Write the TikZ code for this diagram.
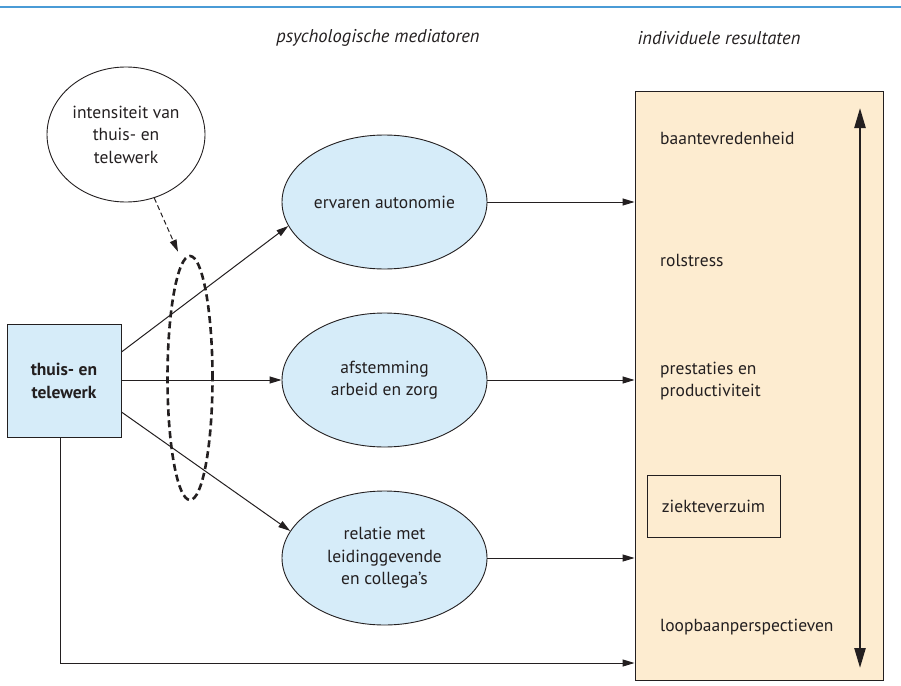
\documentclass[tikz,border=0pt]{standalone}
\usepackage{fontspec}
\setmainfont{PT Sans}
\usetikzlibrary{arrows.meta,positioning,shapes.geometric,calc}
\definecolor{paleblue}{RGB}{214,236,249}
\definecolor{sand}{RGB}{253,236,208}
\definecolor{rulebl}{RGB}{74,155,214}
\definecolor{ink}{RGB}{35,31,32}
\tikzset{
  >={Triangle[length=12pt,width=7pt]},
  txt/.style={font=\fontsize{17.5}{22.5}\selectfont,text=ink,align=center,inner sep=0pt},
  heading/.style={font=\fontsize{18.5}{20}\selectfont\itshape,text=ink,inner sep=0pt},
  mediator/.style={txt,ellipse,draw=ink,line width=0.9pt,fill=#1,
    minimum width=205pt,minimum height=134pt},
  mediator/.default=paleblue,
  outcome/.style={txt,anchor=west},
  flow/.style={->,draw=ink,line width=1pt},
  ring/.style={ellipse,draw=ink,line width=2.6pt,dash pattern=on 7pt off 4pt,
    minimum width=45pt,minimum height=244pt,inner sep=0pt},
}

\begin{document}
\begin{tikzpicture}[x=1pt,y=-1pt]
  \useasboundingbox (0,0) rectangle (901,685);
  \draw[rulebl,line width=2pt] (0,7.5) -- (901,7.5);
  % headings
  \node[heading] (hmed) at (378,38) {psychologische mediatoren};
  \node[heading] (hres) at (719,38) {individuele resultaten};
  % results panel
  \node[draw=ink,line width=0.9pt,fill=sand,minimum width=248pt,minimum height=589pt] (res) at (759,385.5) {};
  \node[outcome] (baan) at (660,138) {baantevredenheid};
  \node[outcome] (rol) at (660,260) {rolstress};
  \node[outcome,align=left] (prest) at (660,381) {prestaties en\\productiviteit};
  \node[txt,draw=ink,line width=0.8pt,minimum width=133pt,minimum height=62pt] (ziek) at (713.5,506) {ziekteverzuim};
  \node[outcome] (loop) at (660,627) {loopbaanperspectieven};
  \coordinate (scaletop) at (860,108);
  \coordinate (scalebot) at (860,668);
  \draw[draw=ink,line width=2.4pt,{Triangle[length=20pt,width=11pt]}-{Triangle[length=20pt,width=11pt]}] (scalebot) -- (scaletop);
  % moderator and cause
  \node[txt,ellipse,draw=ink,line width=0.9pt,minimum width=158pt,minimum height=135pt] (intens) at (126,134.5) {intensiteit van\\thuis- en\\telewerk};
  \node[txt,font=\fontsize{17.5}{23}\selectfont\bfseries,draw=ink,line width=0.9pt,fill=paleblue,minimum width=114pt,minimum height=113pt] (tele) at (64,380.5) {thuis- en\\telewerk};
  \node[ring] (mod) at (190,378) {};
  % mediators
  \node[mediator] (auto) at (384.5,202) {ervaren autonomie};
  \node[mediator] (afst) at (384.5,380) {afstemming\\arbeid en zorg};
  \node[mediator] (rel) at (384.5,558) {relatie met\\leidinggevende\\en collega's};
  % connectors
  \draw[flow,dash pattern=on 5pt off 3pt] (intens.-66) -- ([xshift=-12pt,yshift=3pt]mod.north);
  \draw[flow] ([yshift=28.5pt]tele.east) -- (auto.194);
  \draw[flow] (tele.east |- afst) -- (afst.west);
  \draw[flow] ([yshift=-31.5pt]tele.east) -- (rel.164);
  \foreach \m in {auto,afst,rel}
    \draw[flow] (\m.east) -- (res.west |- \m);
  \coordinate (lowin) at (res.west |- 0,663);
  \draw[flow] ([xshift=-4pt]tele.south) |- (lowin);
\end{tikzpicture}
\end{document}
